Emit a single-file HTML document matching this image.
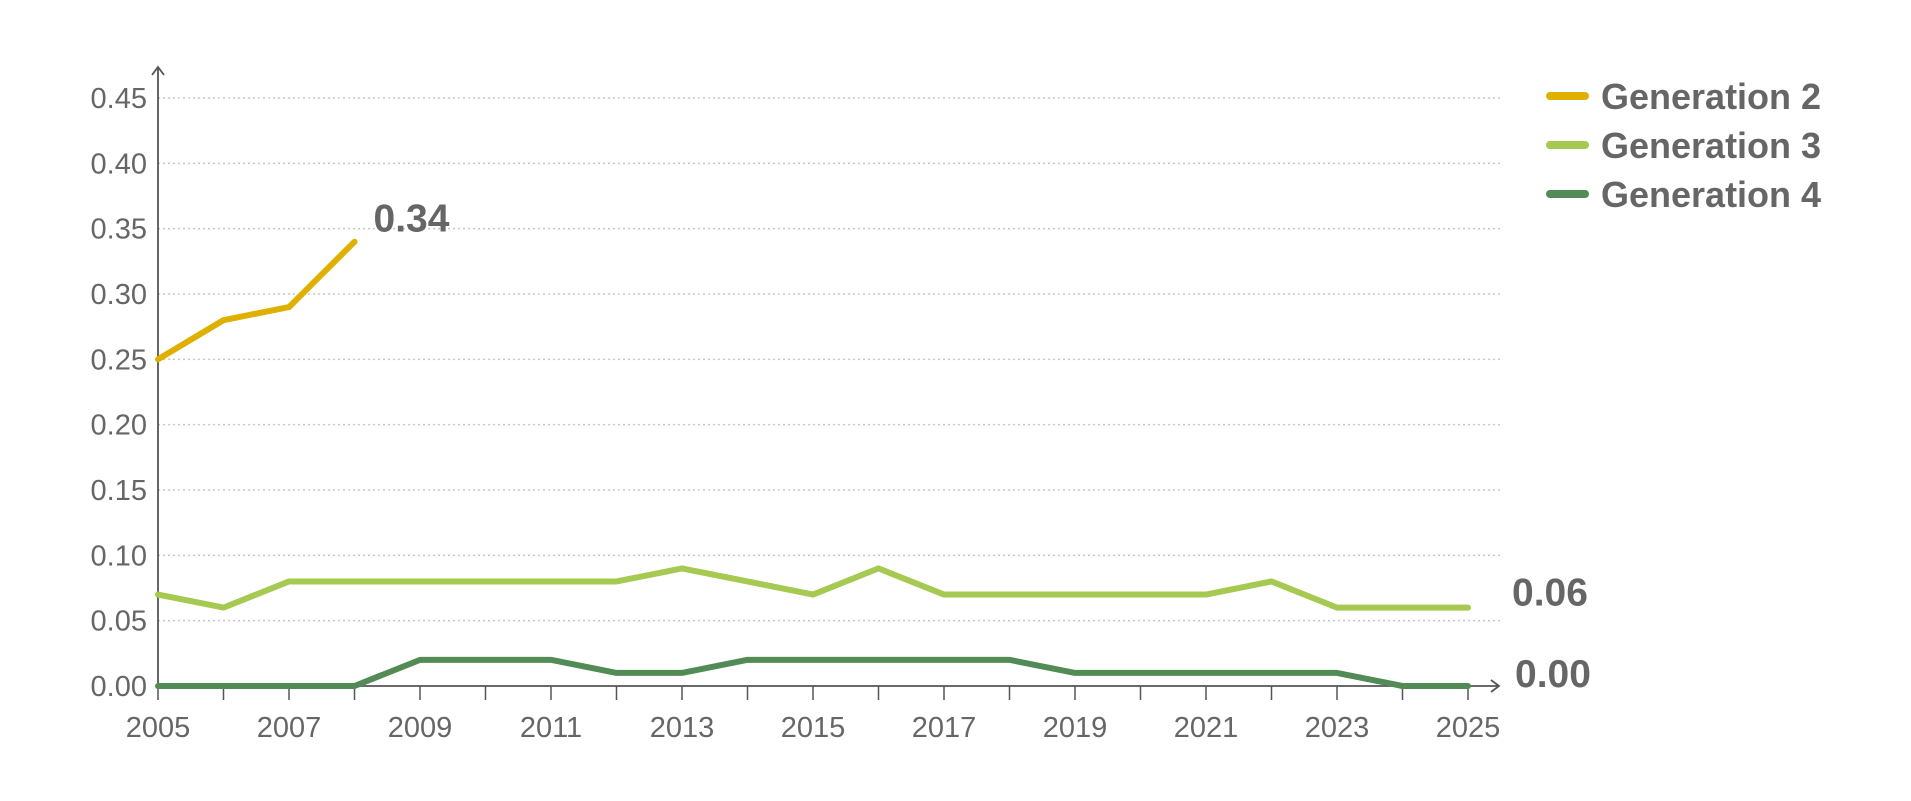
<!DOCTYPE html>
<html><head><meta charset="utf-8"><style>
html,body{margin:0;padding:0;background:#fff;}
svg{display:block;font-family:"Liberation Sans",sans-serif;}
</style></head><body>
<svg id="chart" width="1911" height="801" viewBox="0 0 1911 801"></svg>
<script>
const years=[2005,2006,2007,2008,2009,2010,2011,2012,2013,2014,2015,2016,2017,2018,2019,2020,2021,2022,2023,2024,2025];
const gen2=[0.25,0.28,0.29,0.34];
const gen3=[0.07,0.06,0.08,0.08,0.08,0.08,0.08,0.08,0.09,0.08,0.07,0.09,0.07,0.07,0.07,0.07,0.07,0.08,0.06,0.06,0.06];
const gen4=[0,0,0,0,0.02,0.02,0.02,0.01,0.01,0.02,0.02,0.02,0.02,0.02,0.01,0.01,0.01,0.01,0.01,0,0];
const yTicks=[0,0.05,0.10,0.15,0.20,0.25,0.30,0.35,0.40,0.45];
const xLabelYears=[2005,2007,2009,2011,2013,2015,2017,2019,2021,2023,2025];
const seriesNames=["Generation 2","Generation 3","Generation 4"];
const colors=["#dfb000","#a5c951","#528b55"];

const svg=document.getElementById('chart');
const NS='http://www.w3.org/2000/svg';
const x0=158,x1=1468,y0=686,y45=98;
const X=yr=>x0+(yr-2005)*(x1-x0)/20;
const Y=v=>y0-v*(y0-y45)/0.45;
function mk(tag,attrs,parent){const e=document.createElementNS(NS,tag);for(const k in attrs)e.setAttribute(k,attrs[k]);(parent||svg).appendChild(e);return e;}

yTicks.forEach(t=>{
  if(t>0){const g=mk('line',{x1:x0,x2:1502,y1:Y(t),y2:Y(t),stroke:'#c8c8c8','stroke-width':1.5,'stroke-dasharray':'2 3'});
  
  }
  const tx=mk('text',{x:147,y:Y(t)+10,'text-anchor':'end','font-size':29,fill:'#666'});
  tx.textContent=t.toFixed(2);
  
  
});
const ya=mk('path',{d:`M${x0} ${y0} V67 M${x0-6} 75 L${x0} 67 L${x0+6} 75`,stroke:'#555','stroke-width':1.8,fill:'none'});


const xa=mk('path',{d:`M${x0} ${y0} H1499 M1491 ${y0-6} L1499 ${y0} L1491 ${y0+6}`,stroke:'#555','stroke-width':1.8,fill:'none'});


years.forEach(yr=>{
  const tk=mk('line',{x1:X(yr),x2:X(yr),y1:y0,y2:y0+14,stroke:'#555','stroke-width':1.5});
  
  
});
xLabelYears.forEach(yr=>{
  const tx=mk('text',{x:X(yr),y:737,'text-anchor':'middle','font-size':29,fill:'#666'});
  tx.textContent=yr;
  
  
});
[gen2,gen3,gen4].forEach((s,i)=>{
  const d=s.map((v,j)=>(j?'L':'M')+X(years[j])+' '+Y(v)).join(' ');
  const p=mk('path',{d:d,stroke:colors[i],'stroke-width':6,fill:'none','stroke-linejoin':'round','stroke-linecap':'round'});
  
  
});
function endLabel(s,dx,dy,name){
  const j=s.length-1;
  const t=mk('text',{x:X(years[j])+dx,y:Y(s[j])+dy,'font-size':39,'font-weight':'bold',fill:'#666'});
  t.textContent=s[j].toFixed(2);
  
  
}
endLabel(gen2,19,-10,'end-label-gen2');
endLabel(gen3,44,-2,'end-label-gen3');
endLabel(gen4,47,1,'end-label-gen4');
seriesNames.forEach((n,i)=>{
  const ly=96+i*49;
  const l=mk('line',{x1:1550,x2:1585,y1:ly,y2:ly,stroke:colors[i],'stroke-width':8,'stroke-linecap':'round'});
  
  
  const t=mk('text',{x:1601,y:ly+13,'font-size':36,'font-weight':'bold',fill:'#666'});
  t.textContent=n;
  
  
});
</script>
</body></html>
